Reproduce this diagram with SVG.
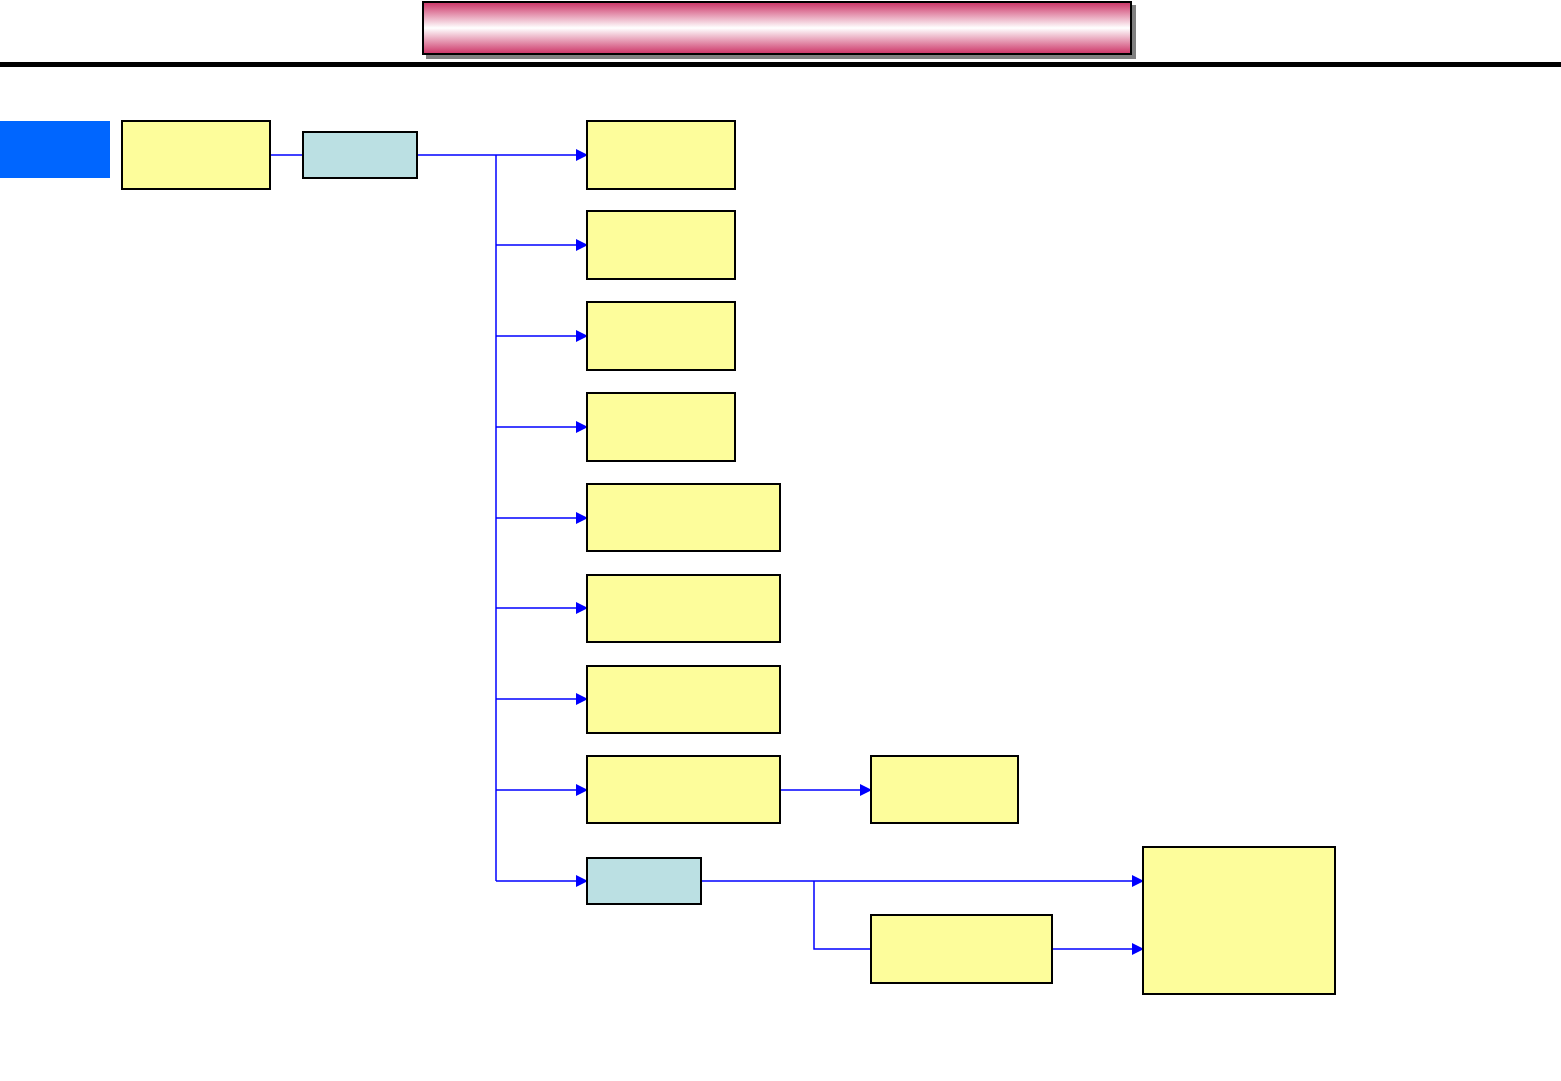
<svg xmlns="http://www.w3.org/2000/svg" width="1561" height="1081" viewBox="0 0 1561 1081">
<defs>
<linearGradient id="band" x1="0" y1="0" x2="0" y2="1">
<stop offset="0" stop-color="#cc3366"/>
<stop offset="0.5" stop-color="#ffffff"/>
<stop offset="1" stop-color="#cc3366"/>
</linearGradient>
<marker id="arr" markerWidth="12" markerHeight="12" refX="11" refY="6" orient="auto" markerUnits="userSpaceOnUse">
<path d="M0,0 L12,6 L0,12 z" fill="#0000ff"/>
</marker>
<style>
.y{fill:#fdfd9b;stroke:#000;stroke-width:2}
.t{fill:#bbe0e3;stroke:#000;stroke-width:2}
.c{fill:none;stroke:#0000ff;stroke-width:1.5}
.a{marker-end:url(#arr)}
</style>
</defs>
<rect width="1561" height="1081" fill="#fff"/>
<g id="title">
<rect x="426" y="5" width="710" height="54" fill="#808080"/>
<rect x="423" y="2" width="708" height="52" fill="url(#band)" stroke="#000" stroke-width="2"/>
</g>
<rect id="rule" x="0" y="62" width="1561" height="5" fill="#000"/>
<rect id="tab" x="0" y="121" width="110" height="57" fill="#0066ff"/>
<g id="connectors">
<path class="c" d="M270,155 H303"/>
<path class="c a" d="M417,155 H587"/>
<path class="c" d="M496,155 V881"/>
<path class="c a" d="M496,245 H587"/>
<path class="c a" d="M496,336 H587"/>
<path class="c a" d="M496,427 H587"/>
<path class="c a" d="M496,518 H587"/>
<path class="c a" d="M496,608 H587"/>
<path class="c a" d="M496,699 H587"/>
<path class="c a" d="M496,790 H587"/>
<path class="c a" d="M496,881 H587"/>
<path class="c a" d="M780,790 H871"/>
<path class="c a" d="M701,881 H1143"/>
<path class="c" d="M814,881 V949 H871"/>
<path class="c a" d="M1052,949 H1143"/>
</g>
<g id="n1"><rect class="y" x="122" y="121" width="148" height="68"/></g>
<g id="n2"><rect class="t" x="303" y="132" width="114" height="46"/></g>
<g id="n3"><rect class="y" x="587" y="121" width="148" height="68"/></g>
<g id="n4"><rect class="y" x="587" y="211" width="148" height="68"/></g>
<g id="n5"><rect class="y" x="587" y="302" width="148" height="68"/></g>
<g id="n6"><rect class="y" x="587" y="393" width="148" height="68"/></g>
<g id="n7"><rect class="y" x="587" y="484" width="193" height="67"/></g>
<g id="n8"><rect class="y" x="587" y="575" width="193" height="67"/></g>
<g id="n9"><rect class="y" x="587" y="666" width="193" height="67"/></g>
<g id="n10"><rect class="y" x="587" y="756" width="193" height="67"/></g>
<g id="n11"><rect class="t" x="587" y="858" width="114" height="46"/></g>
<g id="n12"><rect class="y" x="871" y="756" width="147" height="67"/></g>
<g id="n13"><rect class="y" x="871" y="915" width="181" height="68"/></g>
<g id="n14"><rect class="y" x="1143" y="847" width="192" height="147"/></g>
</svg>
